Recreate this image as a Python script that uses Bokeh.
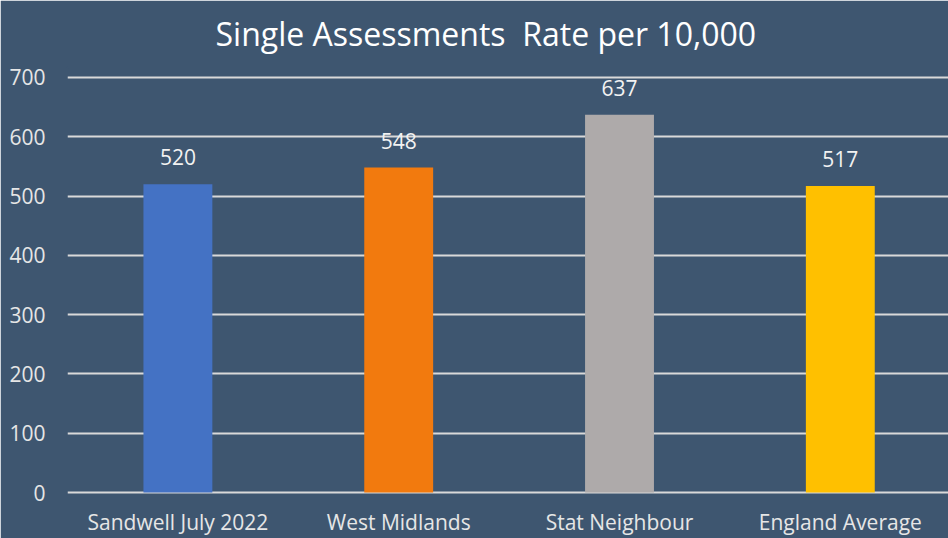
from bokeh.plotting import figure
from bokeh.models import ColumnDataSource, Range1d, FixedTicker, LabelSet
from bokeh.core.properties import value
from bokeh.embed import file_html
from bokeh.resources import INLINE

title_text = "Single Assessments\u00a0 Rate per 10,000"
categories = ["Sandwell July 2022", "West Midlands", "Stat Neighbour", "England Average"]
values = [520, 548, 637, 517]
colors = ["#4472C4", "#F27A0E", "#AEAAAA", "#FFC000"]
y_ticks = [0, 100, 200, 300, 400, 500, 600, 700]

BG = "#3E5670"
FONT = "Open Sans"

xs = [i + 0.5 for i in range(len(categories))]
src = ColumnDataSource(dict(x=xs, top=values, color=colors, label=[str(v) for v in values]))

p = figure(width=948, height=538, output_backend="svg", toolbar_location=None,
           x_range=Range1d(0, 3.99), y_range=Range1d(-3.36, 716.8),
           background_fill_color=BG, border_fill_color=BG,
           outline_line_color=BG, outline_line_width=2,
           min_border_left=67, min_border_right=0, min_border_top=67, min_border_bottom=42)

p.title.text = title_text
p.title.align = "left"
p.title.offset = 148
p.title.vertical_align = "top"
p.title.text_font = FONT
p.title.text_font_size = "32px"
p.title.text_font_style = "normal"
p.title.text_color = "#FFFFFF"
p.title.standoff = 22

p.vbar(x="x", top="top", width=0.312, bottom=0, color="color", line_color=None, source=src)

p.add_layout(LabelSet(x="x", y="top", text="label", source=src, text_align="center",
                      text_baseline="alphabetic", y_offset=19, text_color="#F2F2F2",
                      text_font=value(FONT), text_font_size="21px"))

p.xgrid.grid_line_color = None
p.ygrid.grid_line_color = "#D9D9D9"
p.ygrid.grid_line_width = 2
p.ygrid.ticker = FixedTicker(ticks=y_ticks)

p.yaxis.ticker = FixedTicker(ticks=y_ticks)
p.yaxis.axis_line_color = None
p.yaxis.major_tick_line_color = None
p.yaxis.minor_tick_line_color = None
p.yaxis.major_tick_out = 0
p.yaxis.major_tick_in = 0
p.yaxis.major_label_standoff = 22
p.yaxis.major_label_text_font = FONT
p.yaxis.major_label_text_font_size = "21px"
p.yaxis.major_label_text_color = "#E6E6E6"

p.xaxis.ticker = FixedTicker(ticks=xs)
p.xaxis.major_label_overrides = {x: c for x, c in zip(xs, categories)}
p.xaxis.axis_line_color = None
p.xaxis.major_tick_line_color = None
p.xaxis.minor_tick_line_color = None
p.xaxis.major_tick_out = 0
p.xaxis.major_tick_in = 0
p.xaxis.major_label_standoff = 13
p.xaxis.major_label_text_font = FONT
p.xaxis.major_label_text_font_size = "21px"
p.xaxis.major_label_text_color = "#E6E6E6"

open("out.html", "w").write(file_html(p, INLINE))
